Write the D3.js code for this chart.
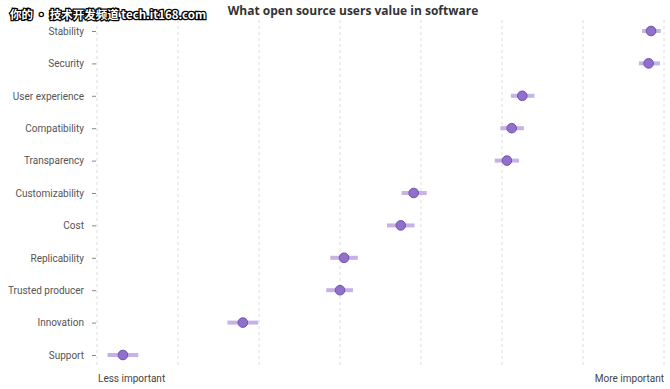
<!DOCTYPE html>
<html>
<head>
<meta charset="utf-8">
<script src="https://cdn.jsdelivr.net/npm/d3@7"></script>
<style>
  body { margin: 0; background: #fff; }
  svg { display: block; }
</style>
</head>
<body>
<svg id="chart" width="670" height="389"></svg>
<script>
// categories top to bottom
const factors = ["Stability", "Security", "User experience", "Compatibility", "Transparency",
  "Customizability", "Cost", "Replicability", "Trusted producer", "Innovation", "Support"];
// estimated importance (0..7 scale) and interval ends
const estimate = [6.84, 6.81, 5.25, 5.12, 5.06, 3.91, 3.75, 3.05, 3.0, 1.80, 0.32];
const lower    = [6.73, 6.69, 5.11, 4.98, 4.91, 3.76, 3.58, 2.88, 2.83, 1.61, 0.13];
const upper    = [6.96, 6.95, 5.40, 5.27, 5.21, 4.07, 3.92, 3.22, 3.16, 1.99, 0.51];
const gridTicks = [0, 1, 2, 3, 4, 5, 6, 7];
const endLabels = ["Less important", "More important"];

const svg = d3.select("#chart");
const font = "Roboto, 'Liberation Sans', Arial, sans-serif";

const x = d3.scaleLinear().domain([0, 7]).range([97, 664]);
const y = d3.scalePoint().domain(factors).range([31, 355]);

// dashed vertical grid
svg.append("g")
  .selectAll("line")
  .data(gridTicks)
  .join("line")
  .attr("x1", d => x(d))
  .attr("x2", d => x(d))
  .attr("y1", 20)
  .attr("y2", 368)
  .attr("stroke", "#dcdcdc")
  .attr("stroke-width", 1)
  .attr("stroke-dasharray", "3,3");

// y axis with labels and small ticks
const yAxis = svg.append("g")
  .attr("transform", "translate(96,0)")
  .call(d3.axisLeft(y).tickSize(4).tickPadding(8));
yAxis.select(".domain").remove();
yAxis.selectAll(".tick line").attr("stroke", "#888");
yAxis.selectAll("text")
  .attr("font-family", font)
  .attr("font-size", "10px")
  .attr("fill", "#555");

const rows = factors.map((f, i) => ({ f, v: estimate[i], lo: lower[i], hi: upper[i] }));

// interval bars
svg.append("g")
  .selectAll("line")
  .data(rows)
  .join("line")
  .attr("x1", d => x(d.lo))
  .attr("x2", d => x(d.hi))
  .attr("y1", d => y(d.f))
  .attr("y2", d => y(d.f))
  .attr("stroke", "#c7b2e6")
  .attr("stroke-width", 4);

// points
svg.append("g")
  .selectAll("circle")
  .data(rows)
  .join("circle")
  .attr("cx", d => x(d.v))
  .attr("cy", d => y(d.f))
  .attr("r", 4.8)
  .attr("fill", "#9170cc")
  .attr("stroke", "#6f4fb0")
  .attr("stroke-width", 1);

// end labels
svg.append("text")
  .attr("x", x(0) + 1)
  .attr("y", 382)
  .attr("font-family", font)
  .attr("font-size", "10px")
  .attr("fill", "#444")
  .text(endLabels[0]);
svg.append("text")
  .attr("x", x(7))
  .attr("y", 382)
  .attr("text-anchor", "end")
  .attr("font-family", font)
  .attr("font-size", "10px")
  .attr("fill", "#444")
  .text(endLabels[1]);

// title
svg.append("text")
  .attr("x", 353)
  .attr("y", 15)
  .attr("text-anchor", "middle")
  .attr("font-family", "'Open Sans', 'DejaVu Sans', sans-serif")
  .attr("font-weight", "bold")
  .attr("font-size", "12px")
  .attr("fill", "#333")
  .text("What open source users value in software");

// watermark
svg.append("text")
  .attr("x", 10)
  .attr("y", 19)
  .attr("font-family", "'Noto Sans CJK SC', 'DejaVu Sans Mono', monospace")
  .attr("font-weight", "bold")
  .attr("font-size", "11.5px")
  .attr("fill", "#fff")
  .attr("stroke", "#000")
  .attr("stroke-width", 2.5)
  .attr("paint-order", "stroke")
  .text("你的 · 技术开发频道 tech.it168.com");
</script>
</body>
</html>
